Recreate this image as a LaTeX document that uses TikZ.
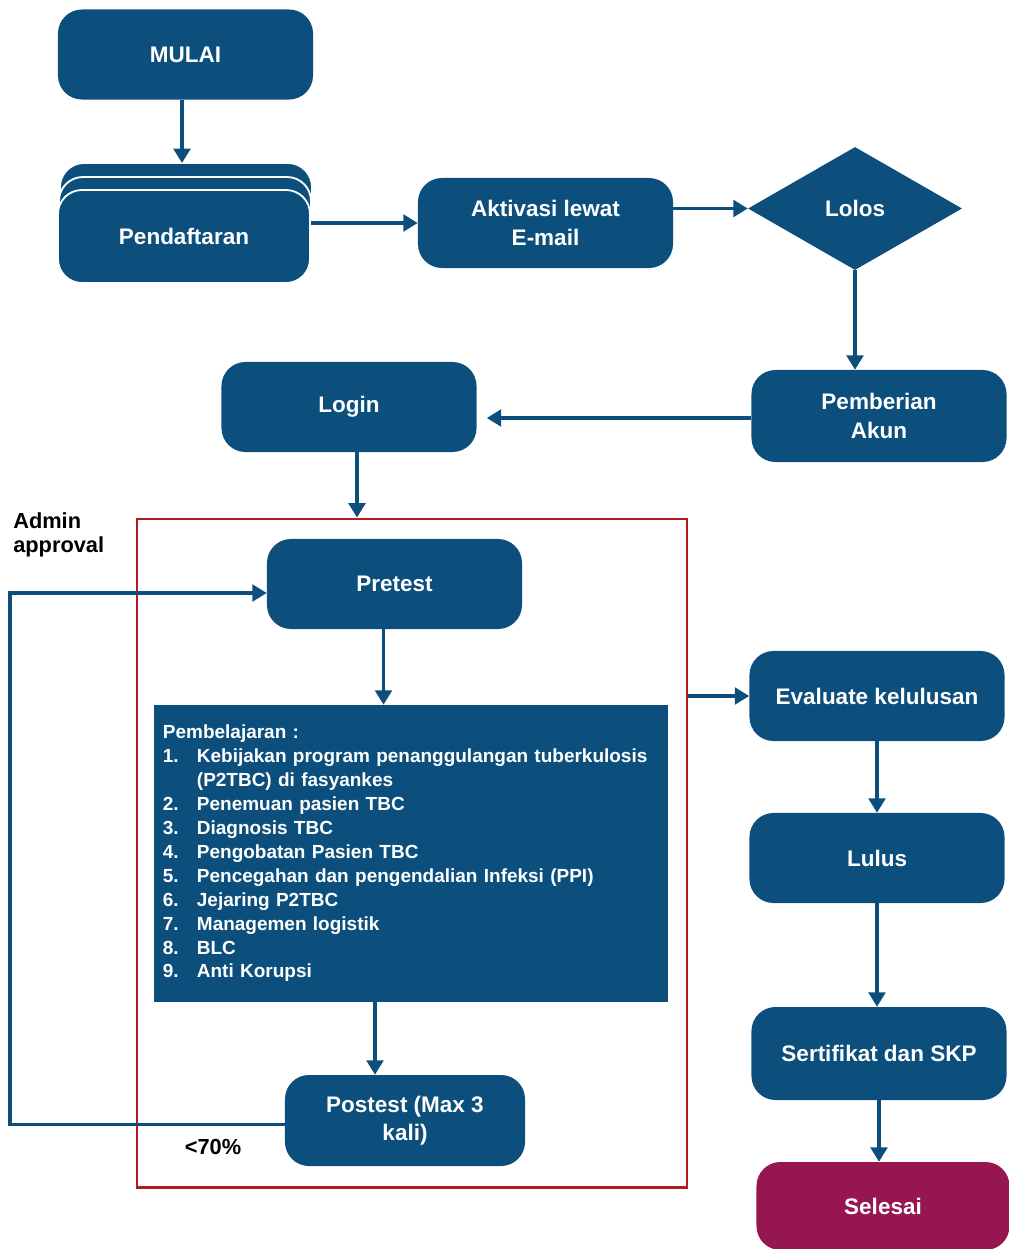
\documentclass[tikz,border=0pt]{standalone}
\usepackage{fontspec}
\setmainfont{Liberation Sans}
\usetikzlibrary{arrows.meta,shapes.geometric}
\definecolor{navy}{RGB}{12,79,125}
\definecolor{plum}{RGB}{150,23,80}
\definecolor{framered}{RGB}{178,30,30}
\newcommand{\itm}[2]{\makebox[0.85cm][l]{#1}#2\par}

\begin{document}
\begin{tikzpicture}[x=0.025cm, y=-0.025cm,
	proc/.style={rectangle, rounded corners=0.6cm, fill=navy, text=white, align=center,
		font=\bfseries\fontsize{16}{20}\selectfont, minimum width=6.375cm, minimum height=2.25cm, inner sep=2pt},
	arr/.style={navy, line width=2.2pt, -{Triangle[length=0.36cm, width=0.42cm]}},
	lbl/.style={font=\bfseries\fontsize{15.5}{17.5}\selectfont, align=left, inner sep=0pt}]
	\useasboundingbox (0,0) rectangle (1008,1249);

	% top row
	\node[proc] (mulai) at (185.5,54.5) {MULAI};
	\filldraw[fill=navy, draw=white, line width=1.3pt, rounded corners=0.6cm] (60,163) rectangle (312,262);
	\filldraw[fill=navy, draw=white, line width=1.3pt, rounded corners=0.6cm] (59,177) rectangle (311,272);
	\coordinate (stacktop) at (182,163);
	\node[proc, draw=white, line width=1.3pt, minimum width=6.3cm, minimum height=2.325cm] (daftar) at (184,236.5) {Pendaftaran};
	\node[proc] (aktivasi) at (545.5,223) {Aktivasi lewat\\E-mail};
	\node[diamond, fill=navy, text=white, font=\bfseries\fontsize{16}{20}\selectfont,
		minimum width=5.35cm, minimum height=3.075cm, inner sep=0pt] (lolos) at (855,208.5) {Lolos};
	\node[proc, minimum height=2.3cm] (akun) at (879,416) {Pemberian\\Akun};
	\node[proc] (login) at (349,407) {Login};

	% modul pelatihan
	\node[draw=framered, line width=2pt, minimum width=13.75cm, minimum height=16.7cm, inner sep=0pt] (modul) at (412,853) {};
	\node[proc] (pre) at (394.5,584) {Pretest};
	\node[rectangle, fill=navy, text=white, font=\bfseries\fontsize{13.5}{17}\selectfont,
		minimum width=12.85cm, minimum height=7.425cm, text width=12.4cm, inner sep=0.225cm] (materi) at (411,853.5)
		{Pembelajaran :\par
		\itm{1.}{Kebijakan program penanggulangan tuberkulosis}
		\itm{}{(P2TBC) di fasyankes}
		\itm{2.}{Penemuan pasien TBC}
		\itm{3.}{Diagnosis TBC}
		\itm{4.}{Pengobatan Pasien TBC}
		\itm{5.}{Pencegahan dan pengendalian Infeksi (PPI)}
		\itm{6.}{Jejaring P2TBC}
		\itm{7.}{Managemen logistik}
		\itm{8.}{BLC}
		\itm{9.}{Anti Korupsi}};
	\node[proc, minimum width=6cm, minimum height=2.275cm] (post) at (405,1120.5) {Postest (Max 3\\kali)};
	\node[lbl, anchor=north west] (admin) at (13,512) {Admin\\approval};
	\node[lbl] (kurang) at (213,1147) {<70\%};
	\coordinate (back) at (10,600);

	% right column
	\node[proc] (eval) at (877,696) {Evaluate kelulusan};
	\node[proc] (lulus) at (877,858) {Lulus};
	\node[proc, minimum height=2.325cm] (serti) at (879,1053.5) {Sertifikat dan SKP};
	\node[proc, fill=plum, minimum width=6.325cm, minimum height=2.2cm] (selesai) at (883,1206) {Selesai};

	\draw[arr] (mulai.south -| stacktop) -- (stacktop);
	\draw[arr] (daftar.east |- aktivasi.west) -- (aktivasi.west);
	\draw[arr] (aktivasi.east |- lolos.west) -- (lolos.west);
	\draw[arr] (lolos.south) -- (lolos.south |- akun.north);
	\draw[arr, shorten >=0.25cm] (akun.west |- 0,418) -- (login.east |- 0,418);
	\draw[arr] ([xshift=0.2cm]login.south) -- ([xshift=0.2cm]login.south |- modul.north);
	\draw[arr] ([xshift=-0.275cm]pre.south) -- ([xshift=-0.275cm]pre.south |- materi.north);
	\draw[arr] ([xshift=-0.75cm]post.north |- materi.south) -- ([xshift=-0.75cm]post.north);
	\draw[arr] ([yshift=-0.1cm]post.west) -- ([yshift=-0.1cm]post.west -| back) |- ([yshift=-0.225cm]pre.west);
	\draw[arr] (modul.east |- eval.west) -- (eval.west);
	\draw[arr] (eval) -- (eval.south |- lulus.north);
	\draw[arr] (lulus) -- (lulus.south |- serti.north);
	\draw[arr] (serti) -- (serti.south |- selesai.north);
\end{tikzpicture}
\end{document}
